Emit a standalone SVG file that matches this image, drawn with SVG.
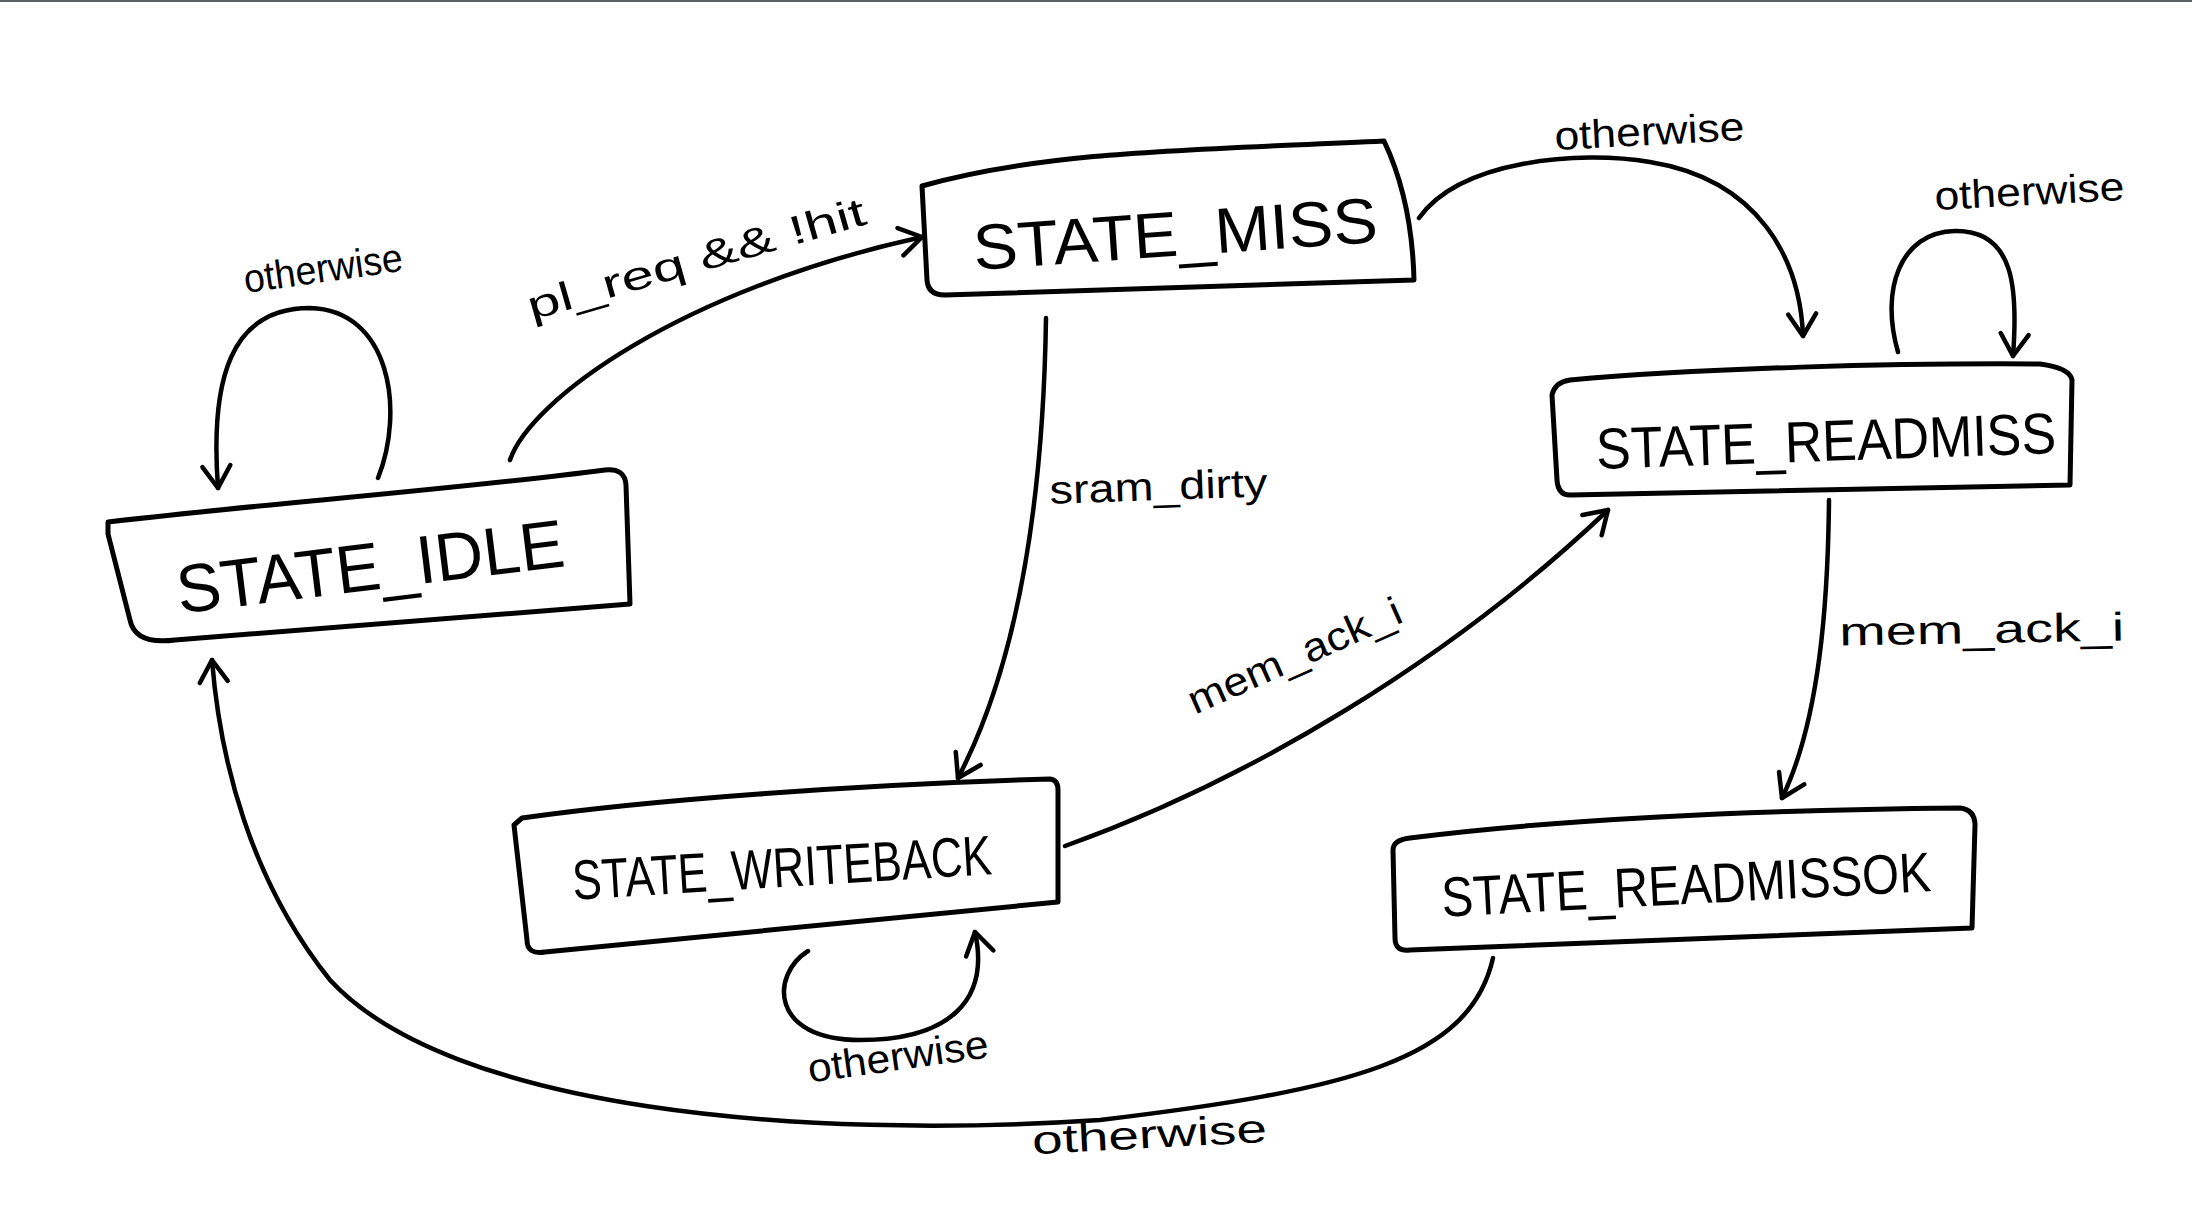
<svg xmlns="http://www.w3.org/2000/svg" width="2192" height="1230" viewBox="0 0 2192 1230">
<style>
.box{fill:none;stroke:#000;stroke-width:5;stroke-linejoin:round;stroke-linecap:round}
.edge{fill:none;stroke:#000;stroke-width:4.5;stroke-linecap:round}
.st{font-family:"Liberation Sans",Arial,sans-serif;fill:#000;text-anchor:middle}
.lb{font-family:"Liberation Sans",Arial,sans-serif;font-size:40px;fill:#000;text-anchor:middle}
</style>
<defs>
<marker id="ah" markerUnits="userSpaceOnUse" markerWidth="40" markerHeight="40" viewBox="-30 -20 40 40" refX="0" refY="0" orient="auto">
<path d="M -22 -14 L 0 0 L -22 14" fill="none" stroke="#000" stroke-width="4.5" stroke-linecap="round" stroke-linejoin="round"/>
</marker>
</defs>
<rect x="0" y="0" width="2192" height="2" fill="#5c5f63"/>

<g id="node-idle">
<path class="box" d="M 108 522 C 250 505 450 490 605 470 Q 625 468 626 485 L 630 604 L 175 640 Q 135 645 130 620 L 108 534 Z"/>
<text class="st" x="370" y="590" font-size="68" textLength="390" lengthAdjust="spacingAndGlyphs" transform="rotate(-7 370 565)">STATE_IDLE</text>
</g>
<g id="node-miss">
<path class="box" d="M 922 186 C 1050 150 1200 150 1384 141 Q 1412 200 1414 280 L 945 295 Q 928 295 927 280 Z"/>
<text class="st" x="1175" y="256" font-size="64" textLength="405" lengthAdjust="spacingAndGlyphs" transform="rotate(-4 1175 231)">STATE_MISS</text>
</g>
<g id="node-readmiss">
<path class="box" d="M 1552 395 Q 1555 382 1570 380 C 1700 368 1900 363 2040 364 Q 2070 368 2072 380 L 2070 485 L 1570 495 Q 1558 495 1557 480 Z"/>
<text class="st" x="1826" y="461" font-size="58" textLength="460" lengthAdjust="spacingAndGlyphs" transform="rotate(-2 1826 440)">STATE_READMISS</text>
</g>
<g id="node-writeback">
<path class="box" d="M 522 818 C 650 800 850 785 1050 779 Q 1058 780 1058 790 L 1058 902 L 545 952 Q 527 955 527 940 L 514 825 Z"/>
<text class="st" x="782" y="887" font-size="56" textLength="420" lengthAdjust="spacingAndGlyphs" transform="rotate(-3.5 782 867)">STATE_WRITEBACK</text>
</g>
<g id="node-readmissok">
<path class="box" d="M 1393 850 Q 1393 840 1410 838 C 1550 820 1750 810 1960 808 Q 1975 810 1975 825 L 1972 928 L 1410 950 Q 1395 952 1395 938 Z"/>
<text class="st" x="1686" y="904" font-size="56" textLength="490" lengthAdjust="spacingAndGlyphs" transform="rotate(-3 1686 884)">STATE_READMISSOK</text>
</g>

<g id="connectors">
<path class="edge" marker-end="url(#ah)" d="M 378 478 C 405 410 390 310 310 308 C 230 308 210 380 218 488"/>
<path class="edge" marker-end="url(#ah)" d="M 510 460 C 530 400 680 290 922 237"/>
<path class="edge" marker-end="url(#ah)" d="M 1419 218 C 1460 160 1580 150 1650 162 C 1760 180 1800 260 1803 336"/>
<path class="edge" marker-end="url(#ah)" d="M 1898 352 C 1880 290 1900 232 1955 231 C 2015 230 2018 290 2013 356"/>
<path class="edge" marker-end="url(#ah)" d="M 1046 318 C 1044 450 1030 640 958 778"/>
<path class="edge" marker-end="url(#ah)" d="M 1065 846 C 1250 780 1450 660 1608 510"/>
<path class="edge" marker-end="url(#ah)" d="M 808 951 C 770 975 770 1040 860 1040 C 950 1040 990 1000 975 932"/>
<path class="edge" marker-end="url(#ah)" d="M 1493 958 C 1470 1060 1350 1090 1100 1120 C 800 1140 450 1110 330 980 C 250 880 220 760 212 660"/>
<path class="edge" marker-end="url(#ah)" d="M 1829 500 C 1828 600 1820 720 1782 798"/>
<text class="lb" x="323" y="282" textLength="160" lengthAdjust="spacingAndGlyphs" transform="rotate(-8 323 268)">otherwise</text>
<text class="lb" x="700" y="272" font-size="46" textLength="350" lengthAdjust="spacingAndGlyphs" transform="rotate(-16 700 272)">pl_req &amp;&amp; !hit</text>
<text class="lb" x="1650" y="145" textLength="190" lengthAdjust="spacingAndGlyphs" transform="rotate(-3 1650 145)">otherwise</text>
<text class="lb" x="2030" y="205" textLength="190" lengthAdjust="spacingAndGlyphs" transform="rotate(-3 2030 205)">otherwise</text>
<text class="lb" x="1159" y="500" textLength="218" lengthAdjust="spacingAndGlyphs" transform="rotate(-2 1159 500)">sram_dirty</text>
<text class="lb" x="1300" y="668" textLength="230" lengthAdjust="spacingAndGlyphs" transform="rotate(-24 1300 668)">mem_ack_i</text>
<text class="lb" x="1982" y="643" textLength="285" lengthAdjust="spacingAndGlyphs" transform="rotate(-1 1982 643)">mem_ack_i</text>
<text class="lb" x="899" y="1070" textLength="182" lengthAdjust="spacingAndGlyphs" transform="rotate(-8 899 1064)">otherwise</text>
<text class="lb" x="1150" y="1148" textLength="235" lengthAdjust="spacingAndGlyphs" transform="rotate(-3 1150 1145)">otherwise</text>
</g>
</svg>
